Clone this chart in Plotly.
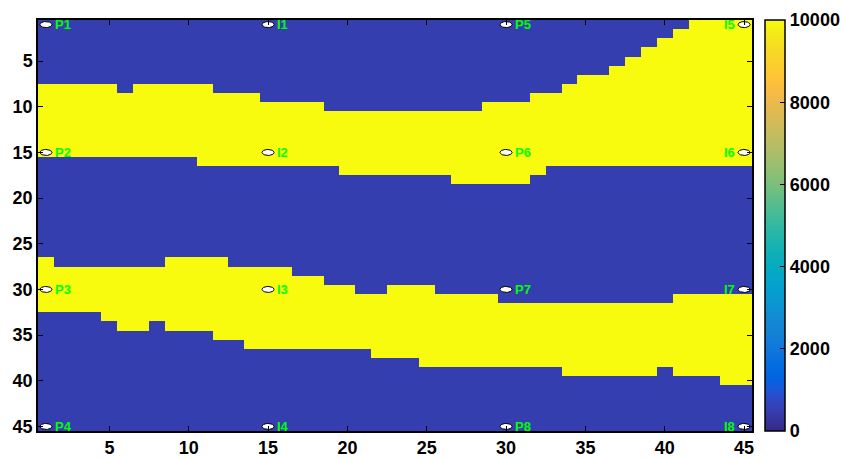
import numpy as np
import plotly.graph_objects as go

# Grid size (rows x columns)
n_rows = 45
n_cols = 45

# Per-column extent (first and last row) of the two high-value bands
band1_top = [8, 8, 8, 8, 8, 9, 8, 8, 8, 8, 8, 9, 9, 9, 10, 10, 10, 10, 11, 11,
             11, 11, 11, 11, 11, 11, 11, 11, 10, 10, 10, 9, 9, 8, 7, 7, 6, 5, 4, 3,
             2, 1, 1, 1, 1]
band1_bot = [15, 15, 15, 15, 15, 15, 15, 15, 15, 15, 16, 16, 16, 16, 16, 16, 16, 16, 16, 17,
             17, 17, 17, 17, 17, 17, 18, 18, 18, 18, 18, 17, 16, 16, 16, 16, 16, 16, 16, 16,
             16, 16, 16, 16, 16]
band2_top = [27, 28, 28, 28, 28, 28, 28, 28, 27, 27, 27, 27, 28, 28, 28, 28, 29, 29, 30, 30,
             31, 31, 30, 30, 30, 31, 31, 31, 31, 32, 32, 32, 32, 32, 32, 32, 32, 32, 32, 32,
             31, 31, 31, 31, 31]
band2_bot = [32, 32, 32, 32, 33, 34, 34, 33, 34, 34, 34, 35, 35, 36, 36, 36, 36, 36, 36, 36,
             36, 37, 37, 37, 38, 38, 38, 38, 38, 38, 38, 38, 38, 39, 39, 39, 39, 39, 39, 38,
             39, 39, 39, 40, 40]

# Cell values inside / outside the bands
high_value = 10000
low_value = 500

# Probe points and their labels
probe_x = [1, 1, 1, 1, 15, 15, 15, 15, 30, 30, 30, 30, 45, 45, 45, 45]
probe_y = [1, 15, 30, 45, 1, 15, 30, 45, 1, 15, 30, 45, 1, 15, 30, 45]
probe_labels = ["P1", "P2", "P3", "P4", "I1", "I2", "I3", "I4",
                "P5", "P6", "P7", "P8", "I5", "I6", "I7", "I8"]

# Axis ticks
x_ticks = [5, 10, 15, 20, 25, 30, 35, 40, 45]
y_ticks = [5, 10, 15, 20, 25, 30, 35, 40, 45]
cbar_ticks = [0, 2000, 4000, 6000, 8000, 10000]

# MATLAB parula colormap (64 entries)
parula = [
    (0.2081, 0.1663, 0.5292), (0.2116, 0.1898, 0.5777), (0.2123, 0.2138, 0.6270), (0.2081, 0.2386, 0.6771),
    (0.1959, 0.2645, 0.7279), (0.1707, 0.2919, 0.7792), (0.1253, 0.3242, 0.8303), (0.0591, 0.3598, 0.8683),
    (0.0117, 0.3875, 0.8820), (0.0060, 0.4086, 0.8828), (0.0165, 0.4266, 0.8786), (0.0329, 0.4430, 0.8720),
    (0.0498, 0.4586, 0.8641), (0.0629, 0.4737, 0.8554), (0.0723, 0.4887, 0.8467), (0.0779, 0.5040, 0.8384),
    (0.0793, 0.5200, 0.8312), (0.0749, 0.5375, 0.8263), (0.0641, 0.5570, 0.8240), (0.0488, 0.5772, 0.8228),
    (0.0343, 0.5966, 0.8199), (0.0265, 0.6137, 0.8135), (0.0239, 0.6287, 0.8038), (0.0231, 0.6418, 0.7913),
    (0.0228, 0.6535, 0.7768), (0.0267, 0.6642, 0.7607), (0.0384, 0.6743, 0.7436), (0.0590, 0.6838, 0.7254),
    (0.0843, 0.6928, 0.7062), (0.1133, 0.7015, 0.6859), (0.1453, 0.7098, 0.6646), (0.1801, 0.7177, 0.6424),
    (0.2178, 0.7250, 0.6193), (0.2586, 0.7317, 0.5954), (0.3022, 0.7376, 0.5712), (0.3482, 0.7424, 0.5473),
    (0.3953, 0.7459, 0.5244), (0.4420, 0.7481, 0.5033), (0.4871, 0.7491, 0.4840), (0.5300, 0.7491, 0.4661),
    (0.5709, 0.7485, 0.4494), (0.6099, 0.7473, 0.4337), (0.6473, 0.7456, 0.4188), (0.6834, 0.7435, 0.4044),
    (0.7184, 0.7411, 0.3905), (0.7525, 0.7384, 0.3768), (0.7858, 0.7356, 0.3633), (0.8185, 0.7327, 0.3498),
    (0.8507, 0.7299, 0.3360), (0.8824, 0.7274, 0.3217), (0.9139, 0.7258, 0.3063), (0.9450, 0.7261, 0.2886),
    (0.9739, 0.7314, 0.2666), (0.9938, 0.7455, 0.2403), (0.9990, 0.7653, 0.2164), (0.9955, 0.7861, 0.1967),
    (0.9880, 0.8066, 0.1794), (0.9789, 0.8271, 0.1633), (0.9697, 0.8481, 0.1475), (0.9626, 0.8705, 0.1309),
    (0.9589, 0.8949, 0.1132), (0.9598, 0.9218, 0.0948), (0.9661, 0.9514, 0.0755), (0.9763, 0.9831, 0.0538),
]
colorscale = [
    [i / (len(parula) - 1), "rgb({:.0f},{:.0f},{:.0f})".format(r * 255, g * 255, b * 255)]
    for i, (r, g, b) in enumerate(parula)
]

# Build the value grid from the band extents
rows = np.arange(1, n_rows + 1)
cols = np.arange(1, n_cols + 1)
z = np.full((n_rows, n_cols), low_value, dtype=float)
for j in range(n_cols):
    for top, bot in ((band1_top[j], band1_bot[j]), (band2_top[j], band2_bot[j])):
        z[top - 1:bot, j] = high_value

tick_font = dict(family="Liberation Sans", size=18, color="black", weight="bold")

fig = go.Figure()

fig.add_trace(go.Heatmap(
    x=cols, y=rows, z=z,
    zmin=0, zmax=10000,
    colorscale=colorscale,
    hoverinfo="skip",
    colorbar=dict(
        xref="container", x=765 / 841, xanchor="left", xpad=0,
        yref="paper", y=0.5, len=1.0, lenmode="fraction", ypad=0,
        thickness=20, thicknessmode="pixels",
        outlinecolor="black", outlinewidth=1.5,
        tickvals=cbar_ticks, tickformat="d",
        ticks="inside", ticklen=5, tickcolor="black",
        tickfont=tick_font,
    ),
))

# White elliptical probe markers with black outline
rx, ry = 0.38, 0.33
t = np.linspace(0, 2 * np.pi, 40)
ex, ey = [], []
for px, py in zip(probe_x, probe_y):
    ex += list(px + rx * np.cos(t)) + [None]
    ey += list(py + ry * np.sin(t)) + [None]
fig.add_trace(go.Scatter(
    x=ex, y=ey, mode="lines", fill="toself",
    fillcolor="white", line=dict(color="black", width=1),
    hoverinfo="skip", showlegend=False,
))

# Probe labels: right of the marker, except on the last column
for px, py, lab in zip(probe_x, probe_y, probe_labels):
    right_side = px < n_cols
    fig.add_annotation(
        x=px, y=py, text=lab, showarrow=False,
        xanchor="left" if right_side else "right",
        xshift=7 if right_side else -7, yanchor="middle",
        font=dict(family="Liberation Sans", size=13, color="#00ff00", weight="bold"),
    )

fig.update_xaxes(
    range=[0.5, n_cols + 0.5], tickvals=x_ticks, ticks="inside", ticklen=5,
    tickcolor="black", showline=True, linecolor="black", linewidth=1.5,
    mirror="ticks", showgrid=False, zeroline=False, tickfont=tick_font,
    automargin=False,
)
fig.update_yaxes(
    range=[n_rows + 0.5, 0.5], tickvals=y_ticks, ticks="inside", ticklen=5,
    tickcolor="black", showline=True, linecolor="black", linewidth=1.5,
    mirror="ticks", showgrid=False, zeroline=False, tickfont=tick_font,
    automargin=False,
)

fig.update_layout(
    width=841, height=458,
    margin=dict(l=38, r=89, t=20, b=27, autoexpand=False),
    paper_bgcolor="white", plot_bgcolor="white",
    showlegend=False,
)

fig.write_html("out.html")
